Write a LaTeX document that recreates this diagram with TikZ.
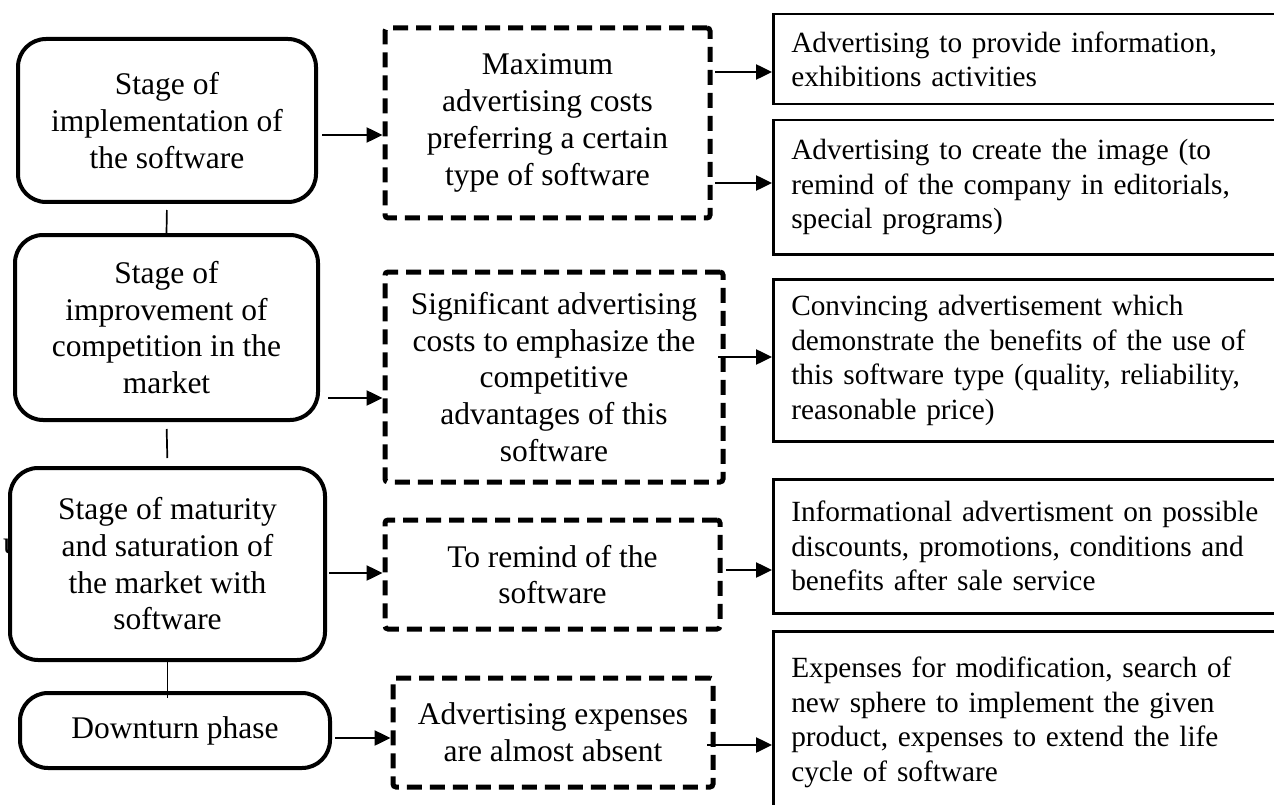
\documentclass[tikz,border=0pt]{standalone}
\usepackage{fontspec}
\setmainfont{Liberation Serif}
\usetikzlibrary{arrows.meta}
\begin{document}
\begin{tikzpicture}[x=1pt,y=-1pt,
  stage/.style={draw, line width=4pt, rounded corners=28pt, fill=white, align=center,
    font=\fontsize{31.5}{36.7}\selectfont, inner sep=0pt},
  costbox/.style={draw, line width=5pt, dash pattern=on 15pt off 8pt, rounded corners=3pt,
    fill=white, align=center, font=\fontsize{31.5}{36.7}\selectfont, inner sep=0pt},
  adbox/.style={draw, line width=2.5pt, anchor=north west, fill=white, align=left,
    text width=534pt, inner xsep=18pt, inner ysep=0pt, minimum width=570pt,
    font=\fontsize{29.3}{34.5}\selectfont},
  arr/.style={line width=2.5pt, -{Triangle[length=16pt 0 0,width=15pt 0 0]}},
  link/.style={line width=1.7pt}]

\useasboundingbox (0,0) rectangle (1274,805);
\clip (0,0) rectangle (1274,805);

% stray glyph partly hidden behind the third stage box
\node[font=\fontsize{31.5}{36.7}\selectfont, anchor=base west, inner sep=0pt] (stray) at (3,553) {u};

% life-cycle stages
\node[stage, minimum width=298pt, minimum height=163pt] (B1) at (167,120.5) {Stage of\\implementation of\\the software};
\node[stage, minimum width=303pt, minimum height=185pt] (B2) at (166.5,327.5) {Stage of\\improvement of\\competition in the\\market};
\node[stage, minimum width=315pt, minimum height=192pt] (B3) at (167.5,564) {Stage of maturity\\and saturation of\\the market with\\software};
\node[stage, minimum width=310pt, minimum height=75pt] (B4) at (175,730.5) {Downturn phase};

% advertising cost level per stage
\node[costbox, minimum width=325pt, minimum height=190pt] (D1) at (547.5,123) {Maximum\\advertising costs\\preferring a certain\\type of software};
\node[costbox, minimum width=338pt, minimum height=210pt] (D2) at (554,377) {Significant advertising\\costs to emphasize the\\competitive\\advantages of this\\software};
\node[costbox, minimum width=335pt, minimum height=109pt] (D3) at (552.5,574.5) {To remind of the\\software};
\node[costbox, minimum width=320pt, minimum height=109pt] (D4) at (553,732.5) {Advertising expenses\\are almost absent};

% kinds of advertising
\node[adbox, minimum height=90pt] (R1) at (772,13) {Advertising to provide information,\\exhibitions activities};
\node[adbox, minimum height=134pt] (R2) at (772,119) {Advertising to create the image (to\\remind of the company in editorials,\\special programs)};
\node[adbox, minimum height=162pt] (R3) at (772,278) {Convincing advertisement which\\demonstrate the benefits of the use of\\this software type (quality, reliability,\\reasonable price)};
\node[adbox, minimum height=134pt] (R4) at (772,478) {Informational advertisment on possible\\discounts, promotions, conditions and\\benefits after sale service};
\node[adbox, minimum height=182pt] (R5) at (772,630) {Expenses for modification, search of\\new sphere to implement the given\\product, expenses to extend the life\\cycle of software};

% links between stages
\draw[link, shorten <=6pt] (B1.south) -- (B2.north);
\draw[link, shorten <=7pt, shorten >=8pt] (B2.south) -- (B3.north);
\draw[link, shorten >=-7pt] (B3.south) -- (B3.south |- B4.north);

% stage -> cost level
\draw[arr, shorten <=4pt] (B1.east |- 0,135) -- (D1.west |- 0,135);
\draw[arr, shorten <=8pt] (B2.east |- 0,398) -- (D2.west |- 0,398);
\draw[arr, shorten <=2pt] (B3.east |- 0,573) -- (D3.west |- 0,573);
\draw[arr, shorten <=3pt] (B4.east |- 0,738) -- (D4.west |- 0,738);

% cost level -> advertising kind
\draw[arr, shorten <=2.5pt] (D1.east |- 0,72) -- (R1.west |- 0,72);
\draw[arr, shorten <=2.5pt] (D1.east |- 0,183) -- (R2.west |- 0,183);
\draw[arr, shorten <=-7.5pt] (D2.east |- 0,357) -- (R3.west |- 0,357);
\draw[arr, shorten <=3.5pt] (D3.east |- 0,570) -- (R4.west |- 0,570);
\draw[arr, shorten <=-8.5pt] (D4.east |- 0,745) -- (R5.west |- 0,745);
\end{tikzpicture}
\end{document}
